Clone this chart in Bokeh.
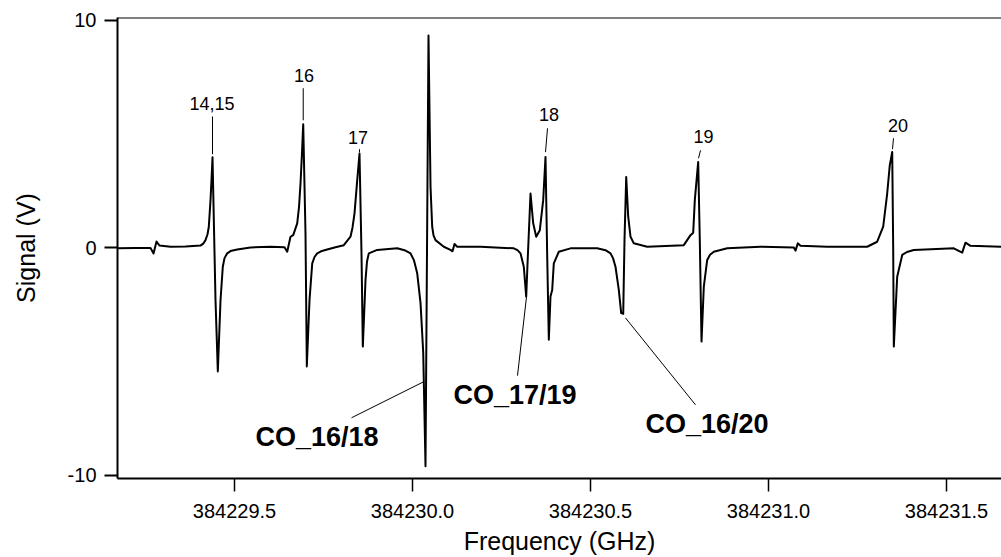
from bokeh.plotting import figure
from bokeh.models import Range1d, FixedTicker, PrintfTickFormatter, ColumnDataSource, Span
from bokeh.core.properties import value
from bokeh.embed import file_html
from bokeh.resources import INLINE

# ---- data ----
freq = [384229.1713, 384229.2219, 384229.2640, 384229.2725, 384229.2809, 384229.2893, 384229.3202, 384229.3624,
        384229.4045, 384229.4129, 384229.4185, 384229.4242, 384229.4278, 384229.4326, 384229.4354, 384229.4382,
        384229.4466, 384229.4531, 384229.4607, 384229.4671, 384229.4719, 384229.4795, 384229.4888, 384229.5076,
        384229.5449, 384229.6011, 384229.6404, 384229.6480, 384229.6573, 384229.6649, 384229.6761, 384229.6812,
        384229.6854, 384229.6896, 384229.6930, 384229.6994, 384229.7031, 384229.7107, 384229.7183, 384229.7247,
        384229.7323, 384229.7430, 384229.7604,
        384229.7837, 384229.8070, 384229.8258, 384229.8315, 384229.8371, 384229.8447, 384229.8511, 384229.8567,
        384229.8604, 384229.8680, 384229.8722, 384229.8772, 384229.9008, 384229.9570,
        384229.9775, 384229.9944, 384230.0042, 384230.0132, 384230.0225, 384230.0301, 384230.0365, 384230.0449,
        384230.0506, 384230.0553, 384230.0590, 384230.0646, 384230.0879, 384230.1067, 384230.1124, 384230.1180,
        384230.1256, 384230.1910,
        384230.2846, 384230.2949, 384230.3034, 384230.3126, 384230.3194, 384230.3239, 384230.3315, 384230.3390,
        384230.3475, 384230.3576, 384230.3671, 384230.3736, 384230.3784, 384230.3829, 384230.3876, 384230.3924,
        384230.3969, 384230.4110, 384230.4438,
        384230.5188, 384230.5421, 384230.5562, 384230.5632, 384230.5702, 384230.5795, 384230.5862, 384230.5919,
        384230.5955, 384230.6003, 384230.6059, 384230.6124, 384230.6216, 384230.6593,
        384230.7621, 384230.7809, 384230.7885, 384230.7930, 384230.8025, 384230.8070, 384230.8118, 384230.8183,
        384230.8278, 384230.8357, 384230.8463, 384230.8840,
        384230.9775, 384231.0711, 384231.0758, 384231.0823, 384231.0899, 384231.1649,
        384231.2772, 384231.3053, 384231.3222, 384231.3334, 384231.3407, 384231.3475, 384231.3503, 384231.3520,
        384231.3615, 384231.3756, 384231.3890, 384231.4081,
        384231.5205, 384231.5441, 384231.5534, 384231.5674, 384231.6545]
signal = [-0.02, 0.0, 0.0, -0.25, 0.28, 0.10, 0.05, 0.06,
          0.10, 0.20, 0.34, 0.60, 0.93, 2.10, 3.00, 3.98,
          -2.29, -5.43, -2.29, -0.83, -0.45, -0.24, -0.14, -0.07,
          0.02, 0.05, 0.03, -0.17, 0.49, 0.56, 1.08, 1.80,
          2.83, 4.20, 5.44, 0.65, -5.21, -2.29, -0.68, -0.40,
          -0.24, -0.15, -0.07,
          0.03, 0.12, 0.49, 0.90, 1.52, 2.98, 4.15, -0.24,
          -4.34, -1.41, -0.60, -0.24, -0.09, -0.02,
          -0.10, -0.24, -0.55, -1.12, -2.42, -4.60, -9.60, 9.34,
          2.68, 0.93, 0.55, 0.34, 0.05, -0.09, -0.15, 0.17,
          0.05, 0.05,
          -0.02, -0.10, -0.24, -0.83, -2.14, -0.39, 2.39, 1.08,
          0.49, 0.78, 2.10, 4.00, -0.39, -4.04, -2.14, -1.85,
          -0.68, -0.17, -0.02,
          -0.02, -0.10, -0.24, -0.45, -0.83, -1.85, -2.87, -2.90,
          0.35, 3.12, 1.37, 0.49, 0.20, 0.05,
          0.12, 0.56, 0.67, 2.10, 3.78, 0.35, -4.12, -1.70,
          -0.53, -0.30, -0.17, -0.02,
          0.05, 0.02, -0.12, 0.20, 0.09, 0.05,
          0.05, 0.27, 0.93, 2.39, 3.64, 4.22, -0.09, -4.34,
          -1.27, -0.31, -0.18, -0.09,
          -0.02, -0.21, 0.23, 0.09, 0.05]

x_ticks = [384229.5, 384230.0, 384230.5, 384231.0, 384231.5]
y_ticks = [-10, 0, 10]

peak_labels = ["14,15", "16", "17", "18", "19", "20"]
peak_label_x = [384229.4368, 384229.6952, 384229.8469, 384230.3834, 384230.8174, 384231.3638]
peak_label_y = [6.33, 7.56, 4.84, 5.85, 4.88, 5.37]
peak_lead_x0 = [384229.4382, 384229.6930, 384229.8511, 384230.3792, 384230.8090, 384231.3511]
peak_lead_y0 = [5.78, 7.02, 4.34, 5.26, 4.29, 4.82]
peak_lead_x1 = [384229.4382, 384229.6930, 384229.8511, 384230.3736, 384230.8034, 384231.3483]
peak_lead_y1 = [4.12, 5.61, 4.20, 4.21, 3.94, 4.34]

iso_labels = ["CO_16/18", "CO_17/19", "CO_16/20"]
iso_x = [384229.5590, 384230.1152, 384230.6545]
iso_y = [-8.33, -6.48, -7.76]
iso_lead_x0 = [384229.8287, 384230.2949, 384230.5983]
iso_lead_y0 = [-7.47, -5.62, -3.08]
iso_lead_x1 = [384230.0309, 384230.3202, 384230.7949]
iso_lead_y1 = [-5.89, -2.16, -6.90]

x_title = "Frequency (GHz)"
y_title = "Signal (V)"

FONT = "Liberation Sans"
X0, X1 = 384229.1713, 384231.6545
Y0, Y1 = -10.14, 10.13

p = figure(width=1001, height=557, output_backend="svg", toolbar_location=None,
           x_range=Range1d(X0, X1), y_range=Range1d(Y0, Y1),
           min_border_left=117, min_border_right=0, min_border_top=17, min_border_bottom=79,
           background_fill_color="white", border_fill_color="white")
p.grid.visible = False
p.outline_line_color = None

# trace
p.line(freq, signal, line_color="black", line_width=2, line_join="round")

# leaders
p.segment(x0=peak_lead_x0, y0=peak_lead_y0, x1=peak_lead_x1, y1=peak_lead_y1,
          line_color="black", line_width=1)
p.segment(x0=iso_lead_x0, y0=iso_lead_y0, x1=iso_lead_x1, y1=iso_lead_y1,
          line_color="black", line_width=1)

# labels
src_peak = ColumnDataSource(dict(x=peak_label_x, y=peak_label_y, t=peak_labels))
p.text(x="x", y="y", text="t", source=src_peak, text_font=value(FONT), text_font_size="18px",
       text_align="center", text_baseline="alphabetic", text_color="black")
src_iso = ColumnDataSource(dict(x=iso_x, y=iso_y, t=iso_labels))
p.text(x="x", y="y", text="t", source=src_iso, text_font=value(FONT), text_font_size="27px",
       text_font_style="bold", text_align="left", text_baseline="alphabetic", text_color="black")

# axes
xa = p.xaxis[0]
xa.ticker = FixedTicker(ticks=x_ticks)
xa.formatter = PrintfTickFormatter(format="%.1f")
ya = p.yaxis[0]
ya.ticker = FixedTicker(ticks=y_ticks)
ya.formatter = PrintfTickFormatter(format="%d")
for ax in (xa, ya):
    ax.axis_line_width = 2
    ax.axis_line_color = "black"
    ax.major_tick_out = 13
    ax.major_tick_in = 0
    ax.minor_tick_out = 0
    ax.minor_tick_in = 0
    ax.major_tick_line_color = "black"
    ax.major_label_text_font = FONT
    ax.major_label_text_font_size = "20px"
    ax.major_label_text_color = "black"
    ax.axis_label_text_font = FONT
    ax.axis_label_text_font_size = "25px"
    ax.axis_label_text_font_style = "normal"
    ax.axis_label_text_color = "black"
xa.major_tick_line_width = 1.5
ya.major_tick_line_width = 2
xa.axis_label = x_title
ya.axis_label = y_title
xa.major_label_standoff = 12
xa.axis_label_standoff = 6
ya.major_label_standoff = 8
ya.axis_label_standoff = 25

# top frame line
p.add_layout(Span(location=Y1, dimension="width", line_color="black", line_width=2))

open("out.html", "w").write(file_html(p, INLINE))
